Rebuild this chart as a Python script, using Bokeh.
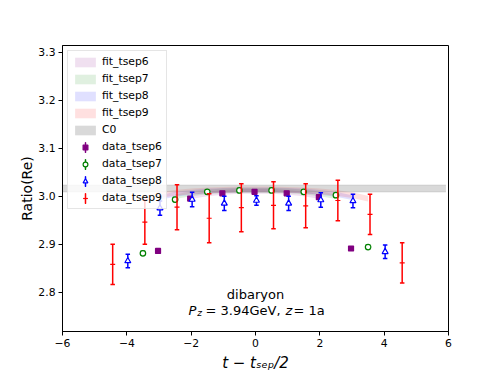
import numpy as np
from bokeh.plotting import figure
from bokeh.models import (Range1d, FixedTicker, PrintfTickFormatter, Legend,
                          LegendItem, Label)
from bokeh.embed import file_html
from bokeh.resources import INLINE

# ---------------- data ----------------
# data points: x = t - tsep/2
x_tsep6 = [-3, -2, -1, 0, 1, 2, 3]
y_tsep6 = [2.886, 2.995, 3.006, 3.009, 3.006, 2.998, 2.891]
e_tsep6 = [0.003, 0.003, 0.003, 0.003, 0.003, 0.003, 0.003]

x_tsep7 = [-3.5, -2.5, -1.5, -0.5, 0.5, 1.5, 2.5, 3.5]
y_tsep7 = [2.881, 2.993, 3.009, 3.012, 3.012, 3.009, 3.002, 2.894]
e_tsep7 = [0.004, 0.004, 0.004, 0.004, 0.004, 0.004, 0.004, 0.004]

x_tsep8 = [-4, -3, -2, -1, 0, 1, 2, 3, 4]
y_tsep8 = [2.865, 2.975, 2.993, 2.985, 2.991, 2.985, 2.992, 2.990, 2.884]
e_tsep8 = [0.014, 0.015, 0.015, 0.015, 0.010, 0.015, 0.015, 0.014, 0.014]

x_tsep9 = [-4.5, -3.5, -2.5, -1.5, -0.5, 0.5, 1.5, 2.5, 3.5, 4.5]
y_tsep9 = [2.858, 2.946, 2.977, 2.954, 2.976, 2.981, 2.980, 2.991, 2.962, 2.861]
e_tsep9 = [0.042, 0.046, 0.047, 0.051, 0.050, 0.049, 0.046, 0.042, 0.042, 0.042]

# fit bands
fx_tsep6 = [-2, -1.5, -1, -0.5, 0, 0.5, 1, 1.5, 2]
fy_tsep6 = [2.999, 3.005, 3.008, 3.010, 3.010, 3.010, 3.008, 3.005, 2.999]
fe_tsep6 = 0.005

fx_tsep7 = [-2.5, -2, -1.5, -1, -0.5, 0, 0.5, 1, 1.5, 2, 2.5]
fy_tsep7 = [2.999, 3.005, 3.009, 3.011, 3.012, 3.012, 3.012, 3.011, 3.009, 3.005, 2.999]
fe_tsep7 = 0.005

fx_tsep8 = [-3, -2.5, -2, -1.5, -1, -0.5, 0, 0.5, 1, 1.5, 2, 2.5, 3]
fy_tsep8 = [2.997, 3.004, 3.008, 3.011, 3.012, 3.013, 3.013, 3.013, 3.012, 3.011, 3.008, 3.004, 2.997]
fe_tsep8 = 0.005

fx_tsep9 = [-3.5, -3, -2.5, -2, -1.5, -1, -0.5, 0, 0.5, 1, 1.5, 2, 2.5, 3, 3.5]
fy_tsep9 = [2.995, 3.002, 3.007, 3.010, 3.012, 3.013, 3.014, 3.014, 3.014, 3.013, 3.012, 3.010, 3.007, 3.002, 2.995]
fe_tsep9 = 0.006

# C0 band
c0_x = [-6.0, 5.92]
c0_val = 3.016
c0_err = 0.007

x_ticks = [-6, -4, -2, 0, 2, 4, 6]
y_ticks = [2.8, 2.9, 3.0, 3.1, 3.2, 3.3]

# ---------------- figure ----------------
FONT = "DejaVu Sans"
p = figure(width=498, height=374, x_range=Range1d(-6, 6), y_range=Range1d(2.718, 3.314),
           output_backend="svg", toolbar_location=None, title=None,
           min_border_left=62, min_border_right=50, min_border_top=45, min_border_bottom=41)
p.xgrid.visible = False
p.ygrid.visible = False
p.outline_line_color = "black"
p.outline_line_width = 1
p.outline_line_alpha = 1
p.background_fill_color = "white"
p.border_fill_color = "white"

p.xaxis.ticker = FixedTicker(ticks=x_ticks)
p.xaxis.major_label_overrides = {v: (str(v).replace("-", "\u2212")) for v in x_ticks}
p.yaxis.ticker = FixedTicker(ticks=y_ticks)
p.yaxis.formatter = PrintfTickFormatter(format="%.1f")
for ax in (p.xaxis[0], p.yaxis[0]):
    ax.major_tick_in = 0
    ax.major_tick_out = 4
    ax.minor_tick_in = 0
    ax.minor_tick_out = 0
    ax.major_tick_line_color = "black"
    ax.axis_line_color = "black"
    ax.major_label_text_font = FONT
    ax.major_label_text_font_size = "10.8px"
    ax.major_label_text_color = "black"
    ax.major_label_standoff = 3
    ax.axis_label_text_font = FONT
    ax.axis_label_text_color = "black"
p.yaxis.axis_label = "Ratio(Re)"
p.yaxis.axis_label_text_font_size = "14px"
p.yaxis.axis_label_text_font_style = "normal"
p.yaxis.axis_label_standoff = 0
p.xaxis.axis_label = "t \u2212 t\u209b\u2091\u209a/2"
p.xaxis.axis_label_text_font_size = "15px"
p.xaxis.axis_label_text_font_style = "italic"
p.xaxis.axis_label_standoff = 4

colors = ["purple", "green", "blue", "red"]
fits = [(fx_tsep6, fy_tsep6, fe_tsep6), (fx_tsep7, fy_tsep7, fe_tsep7),
        (fx_tsep8, fy_tsep8, fe_tsep8), (fx_tsep9, fy_tsep9, fe_tsep9)]
fit_r = []
for (fx, fy, fe), c in zip(fits, colors):
    fy = np.array(fy)
    r = p.varea(x=fx, y1=fy - fe, y2=fy + fe, fill_color=c, fill_alpha=0.12)
    fit_r.append(r)

c0_lo = [c0_val - c0_err] * len(c0_x)
c0_hi = [c0_val + c0_err] * len(c0_x)
c0_r = p.varea(x=c0_x, y1=c0_lo, y2=c0_hi, fill_color="gray", fill_alpha=0.3)
p.line(c0_x, c0_lo, line_color="gray", line_alpha=0.3, line_width=1)
p.line(c0_x, c0_hi, line_color="gray", line_alpha=0.3, line_width=1)

data = [(x_tsep6, y_tsep6, e_tsep6), (x_tsep7, y_tsep7, e_tsep7),
        (x_tsep8, y_tsep8, e_tsep8), (x_tsep9, y_tsep9, e_tsep9)]
shifts = [-0.03, 0.0, 0.03, 0.06]
markers = [dict(marker="square", size=5, fill_color="purple"),
           dict(marker="circle", size=5.5, fill_color="white"),
           dict(marker="triangle", size=6, fill_color="white"),
           dict(marker="dash", size=5, fill_color="red")]
data_items = []
for (xs, ys, es), c, sh, mk in zip(data, colors, shifts, markers):
    xs = np.array(xs, dtype=float) + sh
    ys = np.array(ys)
    es = np.array(es)
    p.segment(x0=xs, y0=ys - es, x1=xs, y1=ys + es, line_color=c, line_width=1.5)
    p.scatter(xs, ys + es, marker="dash", size=4.5, line_color=c, line_width=1.5)
    p.scatter(xs, ys - es, marker="dash", size=4.5, line_color=c, line_width=1.5)
    mr = p.scatter(xs, ys, line_color=c, line_width=1.2, **mk)
    # legend-only proxy: very thin ellipse -> vertical error-bar stroke in legend
    proxy = p.ellipse(x=[100.0], y=[3.0], width=0.02, height=10,
                      width_units="screen", height_units="screen",
                      fill_alpha=0, line_color=c, line_width=1.5)
    data_items.append([proxy, mr])

items = []
for i, r in enumerate(fit_r):
    items.append(LegendItem(label="fit_tsep%d" % (i + 6), renderers=[r]))
items.append(LegendItem(label="C0", renderers=[c0_r]))
for i, rs in enumerate(data_items):
    items.append(LegendItem(label="data_tsep%d" % (i + 6), renderers=rs))

legend = Legend(items=items, location="top_left", margin=5, padding=4,
                glyph_width=26, glyph_height=12, label_height=12, spacing=4,
                label_standoff=4, label_text_font=FONT, label_text_font_size="10.8px",
                label_text_color="black", border_line_color="#cccccc", border_line_width=1,
                background_fill_color="white", background_fill_alpha=0.8)
p.add_layout(legend)


def lab(text, x, y, size, style="normal", align="left"):
    p.add_layout(Label(x=x, y=y, text=text, text_font=FONT, text_font_size=size,
                       text_font_style=style, text_align=align,
                       text_baseline="alphabetic", text_color="black"))


# annotation
lab("dibaryon", 0.0, 2.7946, "13px", align="center")
lab("P", -2.083, 2.7625, "13px", style="italic")
lab("z", -1.812, 2.7563, "9px", style="italic")
lab("= 3.94GeV,", -1.554, 2.7625, "13px")
lab("z", 0.933, 2.7625, "13px", style="italic")
lab("= 1a", 1.181, 2.7625, "13px")

open("out.html", "w").write(file_html(p, INLINE))
